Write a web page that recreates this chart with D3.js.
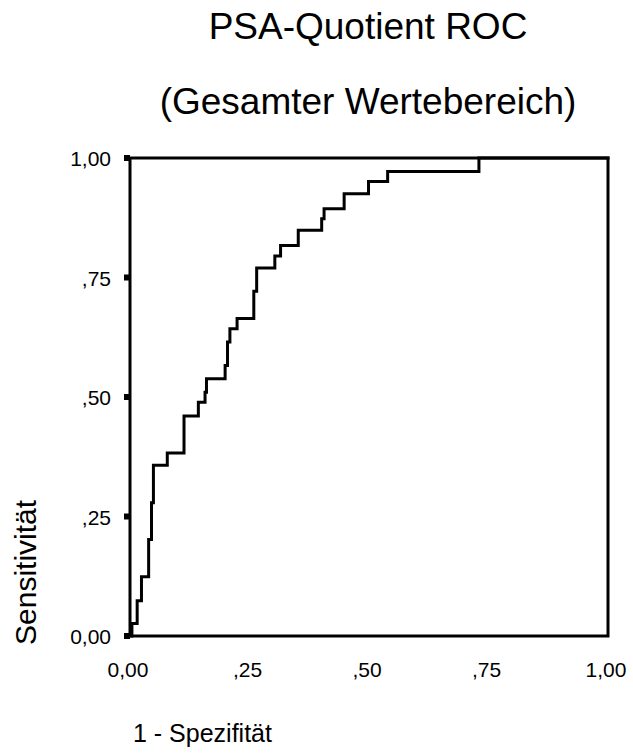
<!DOCTYPE html>
<html>
<head>
<meta charset="utf-8">
<script src="https://cdn.jsdelivr.net/npm/d3@7"></script>
<style>
  body { margin: 0; background: #fff; }
</style>
</head>
<body>
<svg id="sketch"></svg>
<script>
// ROC points (upper-left corner of each step)
var fpr = [0, 0.004, 0.015, 0.024, 0.039, 0.045, 0.049, 0.078, 0.113, 0.143, 0.157, 0.160, 0.199, 0.204,
           0.209, 0.224, 0.259, 0.265, 0.303, 0.315, 0.352, 0.401, 0.406, 0.448, 0.499, 0.539, 0.730, 1.0];
var tpr = [0, 0.026, 0.074, 0.124, 0.202, 0.279, 0.357, 0.383, 0.460, 0.489, 0.510, 0.538, 0.566, 0.615,
           0.643, 0.664, 0.721, 0.770, 0.795, 0.817, 0.849, 0.873, 0.894, 0.925, 0.951, 0.972, 1.0, 1.0];

var tickValues = [0, 0.25, 0.5, 0.75, 1];
var tickLabels = ['0,00', ',25', ',50', ',75', '1,00'];

var title = 'PSA-Quotient ROC';
var subtitle = '(Gesamter Wertebereich)';
var xTitle = '1 - Spezifität';
var yTitle = 'Sensitivität';

function rocChart() {
    var svg = d3.select('#sketch').attr('width', 633).attr('height', 755);
    var font = 'Liberation Sans, Arial, sans-serif';

    var x = d3.scaleLinear().domain([0, 1]).range([130, 608]);
    var y = d3.scaleLinear().domain([0, 1]).range([636, 158]);

    svg.append('rect')
        .attr('width', 633)
        .attr('height', 755)
        .attr('fill', '#fff');

    // titles, centred over the plot frame
    svg.append('text')
        .attr('x', 368)
        .attr('y', 39)
        .attr('text-anchor', 'middle')
        .text(title)
        .style('font-size', '37px')
        .style('font-family', font);

    svg.append('text')
        .attr('x', 368)
        .attr('y', 114)
        .attr('text-anchor', 'middle')
        .text(subtitle)
        .style('font-size', '37px')
        .style('font-family', font);

    // frame
    svg.append('rect')
        .attr('x', x(0))
        .attr('y', y(1))
        .attr('width', x(1) - x(0))
        .attr('height', y(0) - y(1))
        .attr('fill', 'none')
        .attr('stroke', '#000')
        .attr('stroke-width', 3);

    // y ticks: little black squares left of the axis
    svg.selectAll('.ytick')
        .data(tickValues)
        .enter().append('rect')
        .attr('class', 'ytick')
        .attr('x', x(0) - 6)
        .attr('y', function(d) { return y(d) - 3; })
        .attr('width', 6)
        .attr('height', 6)
        .attr('fill', '#000');

    svg.selectAll('.ylab')
        .data(tickValues)
        .enter().append('text')
        .attr('class', 'ylab')
        .attr('x', 111)
        .attr('y', function(d) { return y(d) + 8; })
        .attr('text-anchor', 'end')
        .text(function(d, i) { return tickLabels[i]; })
        .style('font-size', '21px')
        .style('font-family', font);

    svg.selectAll('.xlab')
        .data(tickValues)
        .enter().append('text')
        .attr('class', 'xlab')
        .attr('x', function(d) { return x(d) - 2; })
        .attr('y', 677)
        .attr('text-anchor', 'middle')
        .text(function(d, i) { return tickLabels[i]; })
        .style('font-size', '21px')
        .style('font-family', font);

    // axis titles
    svg.append('text')
        .attr('x', 133)
        .attr('y', 742)
        .text(xTitle)
        .style('font-size', '25px')
        .style('font-family', font);

    svg.append('text')
        .attr('transform', 'translate(36,645) rotate(-90)')
        .text(yTitle)
        .style('font-size', '30px')
        .style('font-family', font);

    // ROC step curve
    var pts = fpr.map(function(d, i) { return [d, tpr[i]]; });
    var line = d3.line()
        .x(function(d) { return x(d[0]); })
        .y(function(d) { return y(d[1]); })
        .curve(d3.curveStepAfter);

    svg.append('path')
        .attr('d', line(pts))
        .attr('fill', 'none')
        .attr('stroke', '#000')
        .attr('stroke-width', 3)
        .attr('stroke-linejoin', 'miter')
        .attr('stroke-linecap', 'square');
}

rocChart();
</script>
</body>
</html>
